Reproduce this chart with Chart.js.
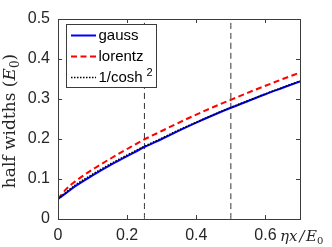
<!DOCTYPE html>
<html>
<head>
<meta charset="utf-8">
<script src="https://cdn.jsdelivr.net/npm/chart.js@4.4.1/dist/chart.umd.min.js"></script>
<style>
    html, body { margin: 0; padding: 0; background: #fff; }
    #wrap { width: 332px; height: 247px; }
</style>
</head>
<body>
<div id="wrap"><canvas id="chart" width="332" height="247"></canvas></div>
<script>
// values
const etaX = [0, 0.025, 0.05, 0.1, 0.15, 0.2, 0.25, 0.3, 0.35, 0.4, 0.45, 0.5, 0.55, 0.6, 0.65, 0.7];
const gauss = [0.05, 0.066, 0.082, 0.109, 0.134, 0.157, 0.180, 0.200, 0.221, 0.241, 0.260, 0.278, 0.295, 0.312, 0.328, 0.344];
const lorentz = [0.05, 0.076, 0.094, 0.124, 0.150, 0.175, 0.199, 0.220, 0.241, 0.261, 0.280, 0.298, 0.316, 0.333, 0.350, 0.366];
const coshSq = [0.05, 0.068, 0.085, 0.112, 0.137, 0.160, 0.182, 0.202, 0.223, 0.242, 0.261, 0.279, 0.296, 0.313, 0.329, 0.345];
const markerX = [0.25, 0.5];
const xTicks = [0, 0.2, 0.4, 0.6];
const yTicks = [0, 0.1, 0.2, 0.3, 0.4, 0.5];

const AXIS_COLOR = '#3c3c3c';
const TEXT_COLOR = '#262626';

const toPoints = (ys) => etaX.map((x, i) => ({ x: x, y: ys[i] }));

const curves = [
    { label: 'gauss', data: toPoints(gauss), borderColor: '#0000ff', borderWidth: 2, borderDash: [], order: 1 },
    { label: 'lorentz', data: toPoints(lorentz), borderColor: '#ff0000', borderWidth: 2, borderDash: [6, 3.5], order: 2 },
    { label: '1/cosh', data: toPoints(coshSq), borderColor: '#000000', borderWidth: 1.5, borderDash: [1.5, 1.5], order: 0 },
];

const markers = markerX.map(x => ({
    label: 'marker',
    data: [{ x: x, y: 0 }, { x: x, y: 0.5 }],
    borderColor: '#333333',
    borderWidth: 1,
    borderDash: [6, 4],
    order: 3,
}));

// Рамка и засечки внутрь по всем четырём сторонам
const boxPlugin = {
    id: 'box',
    afterDatasetsDraw(chart) {
        const { ctx, chartArea: a, scales } = chart;
        ctx.save();
        ctx.strokeStyle = AXIS_COLOR;
        ctx.lineWidth = 1;
        ctx.beginPath();
        xTicks.forEach(v => {
            const px = Math.round(scales.x.getPixelForValue(v)) + 0.5;
            ctx.moveTo(px, a.bottom); ctx.lineTo(px, a.bottom - 4);
            ctx.moveTo(px, a.top); ctx.lineTo(px, a.top + 4);
        });
        yTicks.forEach(v => {
            const py = Math.round(scales.y.getPixelForValue(v)) + 0.5;
            ctx.moveTo(a.left, py); ctx.lineTo(a.left + 4, py);
            ctx.moveTo(a.right, py); ctx.lineTo(a.right - 4, py);
        });
        ctx.stroke();
        ctx.strokeRect(Math.round(a.left) + 0.5, Math.round(a.top) + 0.5,
            Math.round(a.right - a.left), Math.round(a.bottom - a.top));
        ctx.restore();
    }
};

// Легенда в левом верхнем углу графика
const legendPlugin = {
    id: 'boxLegend',
    afterDraw(chart) {
        const ctx = chart.ctx;
        const x0 = 66.5, y0 = 24.5, w = 90, h = 63;
        ctx.save();
        ctx.fillStyle = '#fff';
        ctx.fillRect(x0, y0, w, h);
        ctx.strokeStyle = AXIS_COLOR;
        ctx.lineWidth = 1;
        ctx.strokeRect(x0, y0, w, h);
        const rows = [35.5, 56.5, 77.5];
        curves.forEach((c, i) => {
            ctx.strokeStyle = c.borderColor;
            ctx.lineWidth = c.borderWidth;
            ctx.setLineDash(c.borderDash);
            ctx.beginPath();
            ctx.moveTo(71, rows[i]);
            ctx.lineTo(96, rows[i]);
            ctx.stroke();
            ctx.setLineDash([]);
            ctx.fillStyle = '#000';
            ctx.font = '15px "Liberation Sans", Arial, sans-serif';
            ctx.textBaseline = 'middle';
            ctx.textAlign = 'left';
            ctx.fillText(c.label, 98.5, rows[i] + 0.5);
            if (i === 2) {
                ctx.font = '11px "Liberation Sans", Arial, sans-serif';
                ctx.fillText('2', 146.5, rows[i] - 4.5);
            }
        });
        ctx.restore();
    }
};

// Подписи осей (шрифт с засечками, как в LaTeX)
const titlesPlugin = {
    id: 'axisTitles',
    afterDraw(chart) {
        const ctx = chart.ctx;
        ctx.save();
        ctx.fillStyle = TEXT_COLOR;
        ctx.textBaseline = 'alphabetic';

        // y title, rotated
        const big = '17px "DejaVu Serif", serif';
        const bigIt = 'italic 17px "DejaVu Serif", serif';
        const small = '12px "DejaVu Serif", serif';
        const parts = [
            { t: 'half widths (', f: big, dy: 0 },
            { t: 'E', f: bigIt, dy: 0 },
            { t: '0', f: small, dy: 4 },
            { t: ')', f: big, dy: 0 },
        ];
        let total = 0;
        parts.forEach(p => { ctx.font = p.f; p.w = ctx.measureText(p.t).width; total += p.w; });
        ctx.translate(15, 121);
        ctx.rotate(-Math.PI / 2);
        let cx = -total / 2;
        parts.forEach(p => {
            ctx.font = p.f;
            ctx.fillText(p.t, cx, p.dy);
            cx += p.w;
        });
        ctx.setTransform(1, 0, 0, 1, 0, 0);

        // x title
        const it = 'italic 15px "DejaVu Serif", serif';
        const xs = [
            { t: 'ηx', f: it, dy: 0, gap: 2 },
            { t: '/', f: it, dy: 0, gap: 1.5 },
            { t: 'E', f: it, dy: 0, gap: 0 },
            { t: '0', f: '10px "DejaVu Serif", serif', dy: 3, gap: 0 },
        ];
        let px = 280;
        xs.forEach(p => {
            ctx.font = p.f;
            ctx.fillText(p.t, px, 241 + p.dy);
            px += ctx.measureText(p.t).width + p.gap;
        });
        ctx.restore();
    }
};

const tickFont = { family: '"Liberation Sans", Arial, sans-serif', size: 16 };

new Chart(document.getElementById('chart'), {
    type: 'line',
    data: {
        datasets: [...curves, ...markers].map(d => ({
            ...d,
            fill: false,
            pointRadius: 0,
            tension: 0.4,
            cubicInterpolationMode: 'monotone',
        }))
    },
    options: {
        responsive: false,
        animation: false,
        devicePixelRatio: 1,
        layout: { padding: { left: 0, right: 32, top: 19, bottom: 0 } },
        plugins: {
            legend: { display: false },
            tooltip: { enabled: false },
        },
        scales: {
            x: {
                type: 'linear',
                min: 0,
                max: 0.7,
                grid: { display: false, drawTicks: false },
                border: { display: false },
                ticks: {
                    stepSize: 0.2,
                    includeBounds: false,
                    padding: 7,
                    color: TEXT_COLOR,
                    font: tickFont,
                    maxRotation: 0,
                    callback: (v) => (Math.abs(v) < 1e-9 ? '0' : Number(v.toFixed(1)).toString()),
                },
                afterFit(scale) { scale.height = 28; },
            },
            y: {
                min: 0,
                max: 0.5,
                grid: { display: false, drawTicks: false },
                border: { display: false },
                ticks: {
                    stepSize: 0.1,
                    padding: 8,
                    color: TEXT_COLOR,
                    font: tickFont,
                    callback: (v) => (Math.abs(v) < 1e-9 ? '0' : Number(v.toFixed(1)).toString()),
                },
                afterFit(scale) { scale.width = 58; },
            }
        }
    },
    plugins: [boxPlugin, legendPlugin, titlesPlugin],
});
</script>
</body>
</html>
